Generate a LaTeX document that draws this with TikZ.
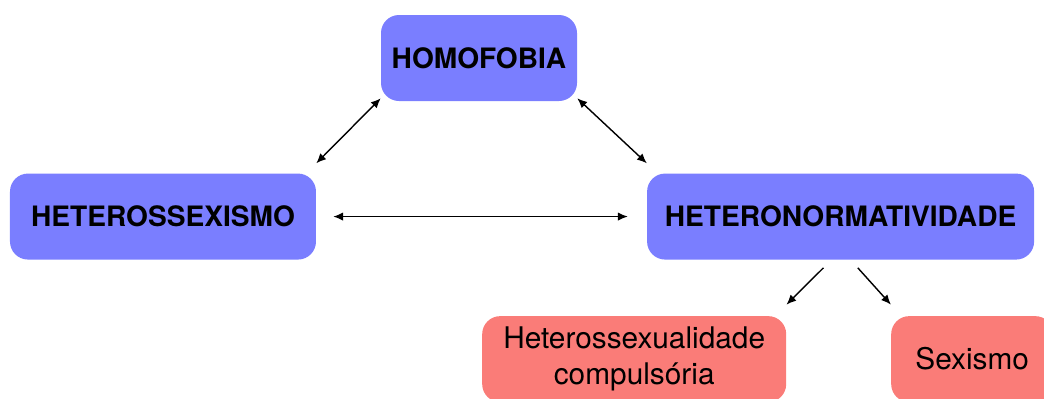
\documentclass[tikz,border=0pt]{standalone}
\usepackage{fontspec}
\setmainfont{TeX Gyre Heros}
\usetikzlibrary{arrows.meta, positioning}
\definecolor{nodeblue}{RGB}{122,126,255}
\definecolor{nodered}{RGB}{250,124,120}

\begin{document}
\begin{tikzpicture}[
  node distance=1.8cm,
  mainbox/.style={rectangle, rounded corners=0.45cm, fill=nodeblue,
                  minimum height=2.15cm, align=center,
                  font=\fontsize{20}{24}\selectfont\bfseries},
  subbox/.style={rectangle, rounded corners=0.45cm, fill=nodered,
                 minimum height=2.15cm, align=center,
                 font=\fontsize{21.2}{25.5}\selectfont},
  arr/.style={-{Latex[length=7pt, width=6pt]}, line width=1pt},
  darr/.style={{Latex[length=7pt, width=6pt]}-{Latex[length=7pt, width=6pt]}, line width=1pt}
]
\useasboundingbox (-11.975,-8.5) rectangle (14.125,1.45);

\node[mainbox, minimum width=4.9cm] (homo) {HOMOFOBIA};
\node[mainbox, minimum width=7.65cm, below=of homo, xshift=-7.9cm] (hsex) {HETEROSSEXISMO};
\node[mainbox, minimum width=9.675cm, below=of homo, xshift=9.04cm] (hnorm) {HETERONORMATIVIDADE};

% forms of heteronormativity
\node[subbox, minimum width=7.6cm, below=1.4cm of hnorm, xshift=-5.16cm] (hcomp) {Heterossexualidade\\compulsória};
\node[subbox, minimum width=4.05cm, below=1.4cm of hnorm, xshift=3.29cm] (sex) {Sexismo};

\draw[darr] ([yshift=0.075cm]homo.south west) -- ([yshift=0.25cm]hsex.north east);
\draw[darr] ([yshift=0.075cm]homo.south east) -- ([yshift=0.25cm]hnorm.north west);
\draw[darr, shorten <=0.425cm, shorten >=0.475cm] (hsex) -- (hnorm);
\draw[arr] ([xshift=-0.43cm, yshift=-0.2cm]hnorm.south) -- ([yshift=0.28cm]hcomp.north east);
\draw[arr] ([xshift=0.43cm, yshift=-0.2cm]hnorm.south) -- ([yshift=0.28cm]sex.north west);

\end{tikzpicture}
\end{document}
